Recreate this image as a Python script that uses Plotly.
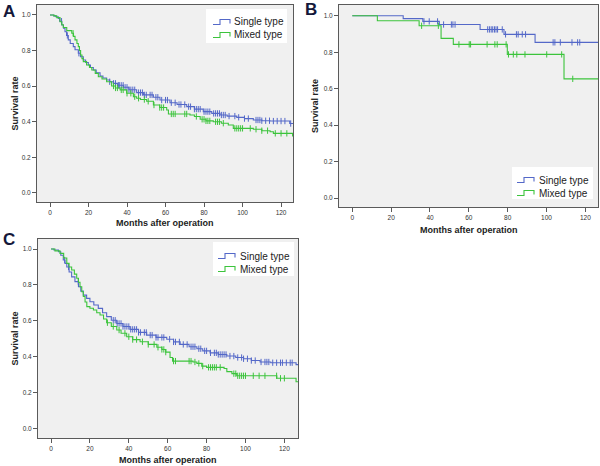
import plotly.graph_objects as go

# ---------------- data ----------------
series_names = ["Single type", "Mixed type"]
x_ticks = [0, 20, 40, 60, 80, 100, 120]
y_ticks = [0.0, 0.2, 0.4, 0.6, 0.8, 1.0]

# Panel A
A_single_t = [0, 2, 3, 4.3, 5, 6.1, 7, 7.8, 8.6, 9.5, 10.5, 12.1, 13, 14.7, 15.8, 17.3, 18.5, 19.9, 21, 22.5,
              24, 26, 27.5, 29.4, 31, 32.9, 35, 38.1, 41, 45, 48.5, 53.7, 57.1, 62.3, 66, 71, 75, 79.6, 84,
              88.3, 92, 97, 101, 105.6, 110, 114.3, 124.5, 126.5]
A_single_s = [1.0, 0.995, 0.99, 0.98, 0.965, 0.944, 0.925, 0.906, 0.885, 0.86, 0.84, 0.822, 0.805, 0.785, 0.765,
              0.747, 0.733, 0.719, 0.705, 0.691, 0.675, 0.657, 0.646, 0.635, 0.625, 0.616, 0.605, 0.594, 0.58,
              0.564, 0.551, 0.538, 0.522, 0.507, 0.497, 0.485, 0.471, 0.457, 0.447, 0.438, 0.432, 0.425, 0.418,
              0.41, 0.406, 0.404, 0.39, 0.39]
A_single_cens = [6, 9, 15, 31, 33, 34, 35.5, 36, 37, 38, 39, 40, 41, 42, 43, 44, 46, 47, 48, 49, 50, 52, 53, 55,
                 56, 58, 60, 61, 63, 65, 67, 68, 70, 72, 73, 75, 76, 77, 78, 80, 81, 82, 83, 85, 86, 87, 88, 89,
                 90, 91, 93, 96, 98, 101, 103, 107, 108, 109, 110, 112, 114, 116, 118, 120, 122, 125]
A_mixed_t = [0, 2, 3.5, 5.2, 6.1, 6.9, 8.7, 11.3, 12.2, 13, 14, 14.7, 15.3, 15.9, 16.6, 17.3, 19, 20.5, 21.7,
             23.5, 25.1, 27, 29.4, 32, 34, 36.4, 39.8, 43.3, 45, 47, 50.2, 53.7, 57, 60.6, 61.5, 72.7, 75, 78,
             81, 84.8, 89, 92.6, 95.2, 105.6, 110, 114.3, 116, 126, 126.5]
A_mixed_s = [1.0, 0.995, 0.985, 0.962, 0.945, 0.93, 0.912, 0.897, 0.88, 0.86, 0.84, 0.822, 0.8, 0.775, 0.755,
             0.738, 0.719, 0.705, 0.691, 0.672, 0.653, 0.64, 0.625, 0.601, 0.59, 0.579, 0.56, 0.541, 0.532,
             0.525, 0.515, 0.494, 0.48, 0.466, 0.444, 0.438, 0.43, 0.414, 0.405, 0.40, 0.392, 0.382, 0.363,
             0.358, 0.35, 0.344, 0.335, 0.32, 0.32]
A_mixed_cens = [12, 33, 34, 35, 37, 38, 40, 42, 44, 46, 49, 51, 54, 57, 58, 59, 63, 64, 65, 70, 71, 76, 79, 80,
                81, 82, 83, 86, 87, 88, 90, 96, 97, 98, 99, 100, 104, 107, 110, 113, 117, 120, 123]

# Panel B
B_single_t = [0, 26.2, 36.3, 44.8, 65.8, 78.1, 94.1, 126.5]
B_single_s = [1.0, 0.984, 0.969, 0.952, 0.925, 0.898, 0.854, 0.854]
B_single_cens = [36.9, 39.6, 43.9, 47, 51, 51.8, 52.9, 69.7, 70.6, 71.5, 72.3, 73.2, 74, 74.8, 77.2, 78.9,
                 84.5, 85.4, 87.5, 89.2, 103.4, 104.3, 107.1, 113.1, 116, 117.1]
B_mixed_t = [0, 12.9, 34.4, 45.7, 52, 79.8, 109, 126.5]
B_mixed_s = [1.0, 0.973, 0.945, 0.876, 0.843, 0.788, 0.654, 0.654]
B_mixed_cens = [35.7, 44.3, 54.9, 60.2, 60.9, 69.4, 73.4, 74.6, 79.2, 80.4, 82.9, 84.7, 88.9, 100.1, 107.8,
                113.5]

# Panel C
C_single_t = [0, 1.5, 3.8, 5, 6.3, 7.2, 8.1, 9.3, 10.6, 12.3, 14.1, 15.3, 16.6, 18.3, 20, 22, 24.3, 26.5, 28.6,
              31, 33.8, 37, 40.6, 45, 49.2, 54, 59.5, 63, 66.4, 71, 75, 78, 81.8, 86, 90.4, 95, 99, 103, 107.5,
              113, 126, 127]
C_single_s = [1.0, 0.995, 0.985, 0.965, 0.939, 0.92, 0.90, 0.872, 0.845, 0.818, 0.79, 0.765, 0.743, 0.725,
              0.706, 0.688, 0.669, 0.645, 0.623, 0.603, 0.585, 0.568, 0.552, 0.535, 0.52, 0.507, 0.497, 0.482,
              0.468, 0.455, 0.444, 0.432, 0.421, 0.412, 0.403, 0.395, 0.388, 0.378, 0.37, 0.366, 0.355, 0.355]
C_single_cens = [7, 9, 14, 32, 33, 34, 35, 36, 37, 38, 39, 40, 41, 42, 43, 44, 45, 46, 48, 49, 51, 52, 54, 55,
                 57, 58, 61, 63, 64, 66, 68, 70, 72, 73, 74, 76, 77, 79, 80, 82, 84, 85, 86, 87, 88, 89, 90, 92,
                 94, 96, 98, 99, 101, 103, 105, 108, 110, 111, 112, 114, 116, 118, 119, 121, 123, 124]
C_mixed_t = [0, 2, 4.6, 6.5, 8.1, 9.3, 10.6, 12, 13.2, 14.1, 14.9, 15.8, 16.6, 17.5, 18.4, 20, 21.8, 23.5, 25.2,
             27, 28.6, 31, 33.8, 36, 38.9, 42, 45.8, 50, 54.4, 57, 59, 61.2, 62.5, 73, 75, 77.5, 80, 89, 90.4,
             93, 95.5, 116.1, 126, 127]
C_mixed_s = [1.0, 0.99, 0.976, 0.95, 0.92, 0.9, 0.883, 0.86, 0.837, 0.815, 0.79, 0.762, 0.735, 0.705, 0.679,
             0.67, 0.66, 0.645, 0.632, 0.61, 0.589, 0.568, 0.548, 0.53, 0.511, 0.495, 0.483, 0.468, 0.452, 0.44,
             0.425, 0.395, 0.375, 0.37, 0.362, 0.347, 0.34, 0.334, 0.316, 0.305, 0.293, 0.279, 0.26, 0.26]
C_mixed_cens = [29, 32, 35, 38, 40, 42, 44, 47, 50, 53, 55, 57, 58, 59, 63, 64, 71, 72, 74, 76, 78, 81, 82, 83,
                84, 85, 87, 94, 95, 96, 97, 98, 99, 100, 104, 107, 110, 116, 118, 120]

# ---------------- styling ----------------
W, H = 600, 466
BLUE = "#5468c8"
GREEN = "#3cc43c"
FONT = "Liberation Sans, Arial, sans-serif"


def px(x):
    return x / W


def py(y):
    return 1 - y / H


def step_value(times, surv, t):
    v = surv[0]
    for ti, si in zip(times, surv):
        if ti <= t:
            v = si
    return v


fig = go.Figure()

panels = [
    ("", [(A_single_t, A_single_s, A_single_cens), (A_mixed_t, A_mixed_s, A_mixed_cens)]),
    ("2", [(B_single_t, B_single_s, B_single_cens), (B_mixed_t, B_mixed_s, B_mixed_cens)]),
    ("3", [(C_single_t, C_single_s, C_single_cens), (C_mixed_t, C_mixed_s, C_mixed_cens)]),
]
colors = [BLUE, GREEN]

for k, curves in panels:
    for (t, s, cens), col, name in zip(curves, colors, series_names):
        fig.add_trace(go.Scatter(x=t, y=s, mode="lines", line=dict(color=col, width=1.1, shape="hv"),
                                 xaxis="x" + k, yaxis="y" + k, showlegend=False, name=name))
        fig.add_trace(go.Scatter(x=cens, y=[step_value(t, s, c) for c in cens], mode="markers",
                                 marker=dict(symbol="line-ns", size=4.5, line=dict(color=col, width=1)),
                                 xaxis="x" + k, yaxis="y" + k, showlegend=False, name=name))

# plot-area pixel boxes: (left, right, top, bottom) and axis ranges
boxes = {
    "": ((37, 293, 5, 202), (-6.75, 126.2), (-0.0506, 1.056)),
    "2": ((339, 598, 5, 207), (-6.85, 126.5), (-0.049, 1.059)),
    "3": ((38, 298, 239, 438), (-6.7, 127.0), (-0.054, 1.056)),
}

axis_common = dict(showline=True, mirror=True, linecolor="#5a5a5a", linewidth=1, ticks="outside", ticklen=4,
                   tickwidth=1, tickcolor="#5a5a5a", showgrid=False, zeroline=False,
                   tickfont=dict(family=FONT, size=6.5, color="#333333"))

layout = dict(width=W, height=H, margin=dict(l=0, r=0, t=0, b=0), paper_bgcolor="white",
              plot_bgcolor="#f0f0f0", showlegend=False)
for k, ((l, r, t, b), xr, yr) in boxes.items():
    layout["xaxis" + k] = dict(domain=[px(l), px(r)], range=list(xr), anchor="y" + k, tickvals=x_ticks,
                               **axis_common)
    layout["yaxis" + k] = dict(domain=[py(b), py(t)], range=list(yr), anchor="x" + k, tickvals=y_ticks,
                               tickformat=".1f", **axis_common)
fig.update_layout(**layout)

annotations = []
shapes = []
title_font = dict(family=FONT, size=9, color="#222222")
# axis titles
for (l, r, t, b), xt_y, yt_x in [(boxes[""][0], 223, 14), (boxes["2"][0], 230, 315), (boxes["3"][0], 460, 14)]:
    annotations.append(dict(text="<b>Months after operation</b>", x=px((l + r) / 2), y=py(xt_y), xref="paper",
                            yref="paper", showarrow=False, font=title_font, xanchor="center", yanchor="middle"))
    annotations.append(dict(text="<b>Survival rate</b>", x=px(yt_x), y=py((t + b) / 2), xref="paper",
                            yref="paper", showarrow=False, font=title_font, textangle=-90, xanchor="center",
                            yanchor="middle"))

# panel letters
for letter, x, y in [("A", 9, 11), ("B", 311, 10), ("C", 9, 239)]:
    annotations.append(dict(text="<b>%s</b>" % letter, x=px(x), y=py(y), xref="paper", yref="paper",
                            showarrow=False, font=dict(family=FONT, size=17, color="#14183a"),
                            xanchor="center", yanchor="middle"))

# legends (white box, step-shaped key, label)
legends = [((206, 287, 9, 43), 213, 232, [22, 35]),
           ((512, 593, 167, 199), 517, 537, [180, 193]),
           ((213, 294, 242, 276), 218, 238, [256, 269])]
for (l, r, t, b), kx, tx, rows in legends:
    shapes.append(dict(type="rect", xref="paper", yref="paper", x0=px(l), x1=px(r), y0=py(b), y1=py(t),
                       fillcolor="white", line=dict(width=0), layer="above"))
    for yc, col, name in zip(rows, colors, series_names):
        path = "M %f %f L %f %f L %f %f L %f %f L %f %f" % (
            px(kx), py(yc + 2.5), px(kx + 7), py(yc + 2.5), px(kx + 7), py(yc - 2.5),
            px(kx + 17), py(yc - 2.5), px(kx + 17), py(yc + 1.5))
        shapes.append(dict(type="path", xref="paper", yref="paper", path=path,
                           line=dict(color=col, width=1.1), layer="above"))
        annotations.append(dict(text=name, x=px(tx), y=py(yc), xref="paper", yref="paper", showarrow=False,
                                xanchor="left", yanchor="middle",
                                font=dict(family=FONT, size=10, color="#222222")))

fig.update_layout(annotations=annotations, shapes=shapes)
fig.write_html("out.html", config={"displayModeBar": False},
               post_script="document.body.style.margin='0';document.body.style.overflow='hidden';")
